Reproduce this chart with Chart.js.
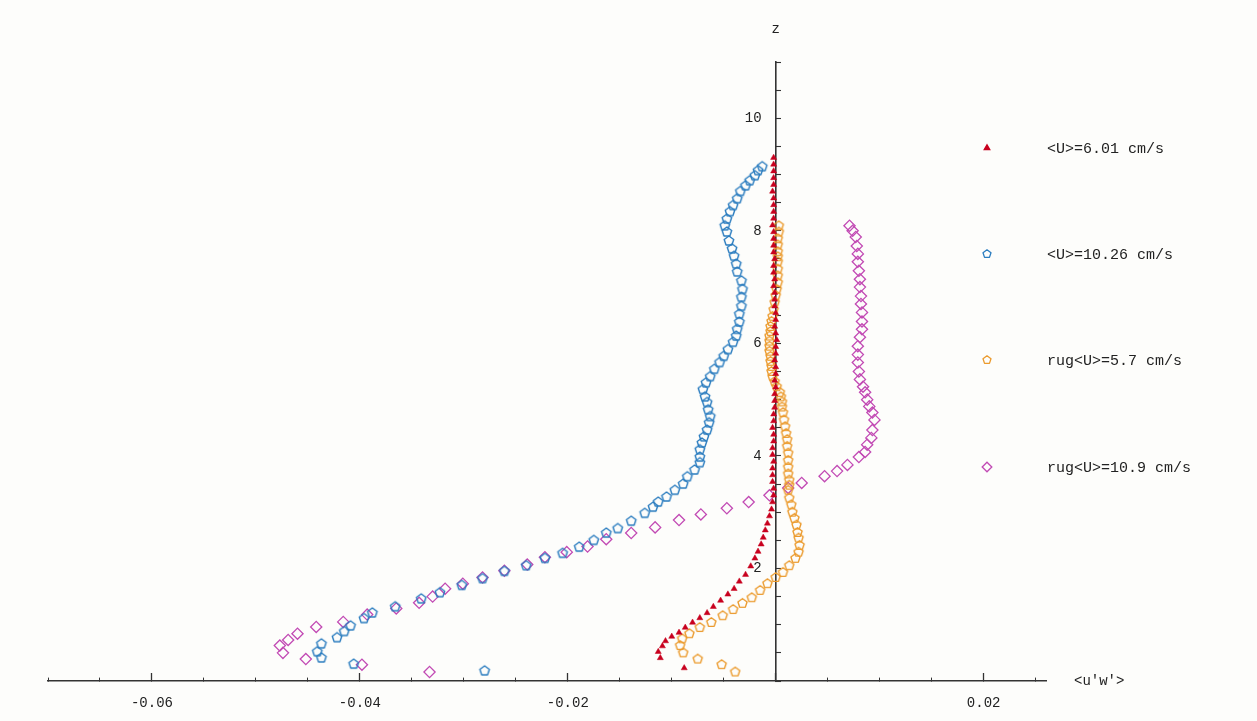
<!DOCTYPE html>
<html>
<head>
<meta charset="utf-8">
<script src="https://cdn.jsdelivr.net/npm/chart.js@4.4.1/dist/chart.umd.min.js"></script>
<style>
  html, body { margin: 0; padding: 0; background: #fdfdfb; }
  #wrap { width: 1257px; height: 721px; }
</style>
</head>
<body>
<div id="wrap"><canvas id="chart" width="1257" height="721"></canvas></div>
<script>
// series names and colours
const seriesLabels = ['<U>=6.01 cm/s', '<U>=10.26 cm/s', 'rug<U>=5.7 cm/s', 'rug<U>=10.9 cm/s'];
const seriesColors = ['#c8001e', '#2a7cbf', '#eb9a2c', '#c24ab4'];

// <U>=6.01 cm/s  (x = <u'w'>, z)
const redX = [-0.0088, -0.0111, -0.0113, -0.0109, -0.0106, -0.0100, -0.0093, -0.0087, -0.0080, -0.0073,
  -0.0066, -0.0060, -0.0053, -0.0046, -0.0040, -0.0035, -0.0029, -0.0024, -0.0020, -0.0017,
  -0.0014, -0.0012, -0.0010, -0.0008, -0.0006, -0.0004, -0.0003, -0.0002,
  -0.0002, -0.0003, -0.0003, -0.0003, -0.0002, -0.0003, -0.0003, -0.0002, -0.0002, -0.0003,
  -0.0002, -0.0002, -0.0001, -0.0001, -0.0001, 0.0000, -0.0001, 0.0000, 0.0000, -0.0001,
  0.0000, 0.0000, 0.0001, 0.0000, -0.0001, 0.0000, 0.0000, -0.0001, -0.0001, -0.0001,
  -0.0002, -0.0001, -0.0002, -0.0002, -0.0001, -0.0002, -0.0002, -0.0002, -0.0002, -0.0003,
  -0.0002, -0.0002, -0.0002, -0.0002, -0.0003, -0.0002, -0.0002, -0.0002, -0.0002, -0.0002];
const redZ = [0.23, 0.41, 0.52, 0.62, 0.71, 0.79, 0.86, 0.95, 1.04, 1.12,
  1.21, 1.32, 1.43, 1.54, 1.64, 1.77, 1.89, 2.04, 2.18, 2.30,
  2.43, 2.55, 2.68, 2.80, 2.93, 3.05, 3.18, 3.30,
  3.42, 3.54, 3.66, 3.78, 3.90, 4.02, 4.14, 4.26, 4.38, 4.50,
  4.62, 4.74, 4.86, 4.98, 5.10, 5.22, 5.34, 5.46, 5.58, 5.70,
  5.82, 5.94, 6.06, 6.18, 6.30, 6.42, 6.54, 6.66, 6.78, 6.90,
  7.02, 7.14, 7.26, 7.38, 7.50, 7.62, 7.74, 7.86, 7.98, 8.10,
  8.22, 8.34, 8.46, 8.58, 8.70, 8.82, 8.94, 9.06, 9.18, 9.30];

// <U>=10.26 cm/s
const blueX = [-0.0280, -0.0406, -0.0437, -0.0441, -0.0437, -0.0422, -0.0415, -0.0409, -0.0396, -0.0388,
  -0.0366, -0.0341, -0.0323, -0.0302, -0.0282, -0.0261, -0.0240, -0.0222, -0.0205, -0.0189,
  -0.0175, -0.0163, -0.0152, -0.0139, -0.0126, -0.0118, -0.0113, -0.0105, -0.0097, -0.0089,
  -0.0085, -0.0078, -0.0073, -0.0073, -0.0073, -0.0071, -0.0069, -0.0066, -0.0064, -0.0063,
  -0.0065, -0.0066, -0.0068, -0.0070, -0.0067, -0.0063, -0.0059, -0.0054, -0.0050, -0.0046,
  -0.0041, -0.0038, -0.0037, -0.0035, -0.0035, -0.0033, -0.0033, -0.0032, -0.0033, -0.0037,
  -0.0038, -0.0040, -0.0042, -0.0045, -0.0047, -0.0049, -0.0047, -0.0044, -0.0041, -0.0037,
  -0.0034, -0.0029, -0.0025, -0.0020, -0.0017, -0.0013];
const blueZ = [0.18, 0.30, 0.41, 0.52, 0.66, 0.77, 0.88, 0.98, 1.11, 1.21,
  1.32, 1.46, 1.57, 1.70, 1.82, 1.95, 2.05, 2.18, 2.27, 2.38,
  2.50, 2.63, 2.71, 2.84, 2.98, 3.09, 3.18, 3.27, 3.39, 3.50,
  3.63, 3.75, 3.88, 3.98, 4.11, 4.23, 4.34, 4.46, 4.59, 4.70,
  4.82, 4.95, 5.05, 5.18, 5.30, 5.41, 5.54, 5.66, 5.77, 5.89,
  6.02, 6.13, 6.25, 6.38, 6.52, 6.66, 6.82, 6.96, 7.11, 7.27,
  7.41, 7.55, 7.68, 7.82, 7.98, 8.09, 8.21, 8.34, 8.45, 8.57,
  8.70, 8.80, 8.89, 8.98, 9.07, 9.14];

// rug<U>=5.7 cm/s
const orangeX = [-0.0039, -0.0052, -0.0075, -0.0089, -0.0092, -0.0090, -0.0083, -0.0073, -0.0062, -0.0051,
  -0.0041, -0.0032, -0.0023, -0.0015, -0.0008, 0.0000, 0.0007, 0.0013, 0.0019, 0.0022,
  0.0023, 0.0022, 0.0021, 0.0020, 0.0018, 0.0016, 0.0015, 0.0013, 0.0012,
  0.0013, 0.0013, 0.0012, 0.0012, 0.0012, 0.0012, 0.0011, 0.0011, 0.0010, 0.0009,
  0.0008, 0.0007, 0.0006, 0.0006, 0.0005, 0.0004, 0.0001, -0.0001, -0.0003, -0.0004,
  -0.0004, -0.0005, -0.0005, -0.0006, -0.0006, -0.0006, -0.0006, -0.0005, -0.0005, -0.0004,
  -0.0003, -0.0002, -0.0001, 0.0000, 0.0001, 0.0002, 0.0002, 0.0002, 0.0002, 0.0002,
  0.0002, 0.0002, 0.0002, 0.0003, 0.0003];
const orangeZ = [0.16, 0.29, 0.39, 0.50, 0.63, 0.75, 0.84, 0.95, 1.04, 1.16,
  1.27, 1.38, 1.48, 1.61, 1.73, 1.84, 1.93, 2.05, 2.18, 2.29,
  2.41, 2.54, 2.64, 2.77, 2.89, 3.00, 3.13, 3.25, 3.39,
  3.48, 3.57, 3.68, 3.80, 3.92, 4.05, 4.17, 4.29, 4.40, 4.52,
  4.64, 4.77, 4.87, 4.96, 5.05, 5.13, 5.23, 5.32, 5.41, 5.50,
  5.59, 5.68, 5.77, 5.86, 5.95, 6.04, 6.13, 6.21, 6.30, 6.39,
  6.48, 6.60, 6.73, 6.85, 6.96, 7.08, 7.20, 7.32, 7.45, 7.54,
  7.63, 7.75, 7.86, 7.98, 8.09];

// rug<U>=10.9 cm/s
const magentaX = [-0.0333, -0.0398, -0.0452, -0.0474, -0.0477, -0.0469, -0.0460, -0.0442, -0.0416, -0.0393,
  -0.0365, -0.0343, -0.0330, -0.0318, -0.0301, -0.0282, -0.0261, -0.0239, -0.0222, -0.0201,
  -0.0181, -0.0163, -0.0139, -0.0116, -0.0093, -0.0072, -0.0047, -0.0026, -0.0006, 0.0012,
  0.0025, 0.0047, 0.0059, 0.0069, 0.0080, 0.0086, 0.0088, 0.0092, 0.0093, 0.0095,
  0.0093, 0.0090, 0.0088, 0.0086, 0.0084, 0.0081, 0.0080, 0.0079, 0.0079, 0.0079,
  0.0081, 0.0083, 0.0083, 0.0083, 0.0082, 0.0082, 0.0081, 0.0081, 0.0080, 0.0079,
  0.0079, 0.0078, 0.0077, 0.0074, 0.0071];
const magentaZ = [0.16, 0.29, 0.39, 0.50, 0.63, 0.73, 0.84, 0.96, 1.05, 1.18,
  1.29, 1.39, 1.50, 1.64, 1.73, 1.84, 1.96, 2.07, 2.20, 2.29,
  2.39, 2.52, 2.63, 2.73, 2.86, 2.96, 3.07, 3.18, 3.30, 3.43,
  3.52, 3.64, 3.73, 3.84, 3.98, 4.07, 4.20, 4.32, 4.46, 4.64,
  4.77, 4.88, 5.00, 5.13, 5.23, 5.36, 5.50, 5.66, 5.80, 5.95,
  6.11, 6.25, 6.39, 6.55, 6.70, 6.84, 7.00, 7.14, 7.29, 7.45,
  7.59, 7.73, 7.89, 8.00, 8.09];

// labelled ticks
const xLabelTicks = [-0.06, -0.04, -0.02, 0.02];
const zLabelTicks = [2, 4, 6, 8, 10];

const toPoints = (xs, zs) => xs.map((x, i) => ({ x: x, y: zs[i] }));

function pentagon(color, r, lw) {
  const c = document.createElement('canvas');
  const s = Math.ceil(2 * r + lw + 2);
  c.width = s; c.height = s;
  const g = c.getContext('2d');
  g.strokeStyle = color;
  g.lineWidth = lw;
  g.lineJoin = 'round';
  g.beginPath();
  for (let i = 0; i < 5; i++) {
    const a = -Math.PI / 2 + i * 2 * Math.PI / 5;
    const px = s / 2 + r * Math.cos(a), py = s / 2 + r * Math.sin(a);
    if (i) g.lineTo(px, py); else g.moveTo(px, py);
  }
  g.closePath();
  g.stroke();
  return c;
}

const bluePent = pentagon(seriesColors[1], 5, 1.4);
const orangePent = pentagon(seriesColors[2], 4.8, 1.4);

const legendMarks = [
  { pointStyle: 'triangle', radius: 3.2, fill: true },
  { pointStyle: pentagon(seriesColors[1], 4.2, 1.3), radius: 4 },
  { pointStyle: pentagon(seriesColors[2], 4.2, 1.3), radius: 4 },
  { pointStyle: 'rectRot', radius: 4.8, fill: false }
];

// legend and axis names drawn next to the plot
const sideText = {
  id: 'sideText',
  afterDraw(chart) {
    const ctx = chart.ctx;
    const xs = chart.scales.x, ys = chart.scales.y;
    ctx.save();
    ctx.fillStyle = '#222';
    ctx.font = "14px 'Liberation Mono', monospace";
    ctx.textAlign = 'center';
    ctx.textBaseline = 'middle';
    ctx.fillText('z', xs.getPixelForValue(0), 29);
    ctx.textAlign = 'left';
    ctx.fillText("<u'w'>", 1074, ys.getPixelForValue(0));

    const rows = [148, 254, 360, 467];
    ctx.font = "15px 'Liberation Mono', monospace";
    seriesLabels.forEach((lab, i) => {
      const m = legendMarks[i];
      ctx.save();
      ctx.fillStyle = m.fill ? seriesColors[i] : 'rgba(0,0,0,0)';
      ctx.strokeStyle = seriesColors[i];
      ctx.lineWidth = 1.3;
      Chart.helpers.drawPoint(ctx, { pointStyle: m.pointStyle, radius: m.radius, borderWidth: 1.3, rotation: 0 }, 987, rows[i]);
      ctx.restore();
      ctx.fillStyle = '#222';
      ctx.fillText(lab, 1047, rows[i] + 1);
    });
    ctx.restore();
  }
};

Chart.defaults.font.family = "'Liberation Mono', monospace";
Chart.defaults.color = '#222';

const axisColor = '#333';

new Chart(document.getElementById('chart'), {
  type: 'scatter',
  data: {
    datasets: [
      {
        label: seriesLabels[0], data: toPoints(redX, redZ),
        pointStyle: 'triangle', pointRadius: 3.5, pointBorderWidth: 0.5,
        pointBackgroundColor: seriesColors[0], pointBorderColor: seriesColors[0]
      },
      {
        label: seriesLabels[1], data: toPoints(blueX, blueZ),
        pointStyle: bluePent, pointRadius: 5
      },
      {
        label: seriesLabels[2], data: toPoints(orangeX, orangeZ),
        pointStyle: orangePent, pointRadius: 5
      },
      {
        label: seriesLabels[3], data: toPoints(magentaX, magentaZ),
        pointStyle: 'rectRot', pointRadius: 5.6, pointBorderWidth: 1.3,
        pointBackgroundColor: 'rgba(0,0,0,0)', pointBorderColor: seriesColors[3]
      }
    ]
  },
  options: {
    responsive: false,
    animation: false,
    layout: { padding: { left: 48, right: 211, top: 62, bottom: 40 } },
    plugins: { legend: { display: false }, tooltip: { enabled: false } },
    scales: {
      x: {
        type: 'linear', position: { y: 0 }, min: -0.07, max: 0.026, z: 1,
        grid: { drawOnChartArea: false, tickLength: -4, tickColor: axisColor, tickWidth: 1 },
        border: { color: axisColor, width: 1.6 },
        ticks: { stepSize: 0.005, autoSkip: false, includeBounds: false, callback: () => '' }
      },
      xMajor: {
        type: 'linear', axis: 'x', position: { y: 0 }, min: -0.07, max: 0.026, z: 1,
        grid: { drawOnChartArea: false, tickLength: -8, tickColor: axisColor, tickWidth: 1.3 },
        border: { display: false },
        ticks: {
          stepSize: 0.02, autoSkip: false, includeBounds: false, padding: 22,
          font: { size: 14 }, color: '#222',
          callback: v => xLabelTicks.some(t => Math.abs(t - v) < 1e-9) ? v.toFixed(2) : ''
        }
      },
      y: {
        type: 'linear', position: { x: 0 }, min: 0, max: 11, z: 1,
        grid: { drawOnChartArea: false, tickLength: -6, tickColor: axisColor, tickWidth: 1.1 },
        border: { color: axisColor, width: 1.6 },
        ticks: { stepSize: 0.5, autoSkip: false, includeBounds: false, callback: () => '' }
      },
      // labels of the z axis, set a little to the left of the axis line
      yLabels: {
        type: 'linear', axis: 'y', position: { x: -0.00135 }, min: 0, max: 11,
        grid: { display: false },
        border: { display: false },
        ticks: {
          stepSize: 0.5, autoSkip: false, includeBounds: false, padding: 0,
          font: { size: 14 }, color: '#222',
          callback: v => zLabelTicks.includes(v) ? String(v) : ''
        }
      }
    }
  },
  plugins: [sideText]
});
</script>
</body>
</html>
